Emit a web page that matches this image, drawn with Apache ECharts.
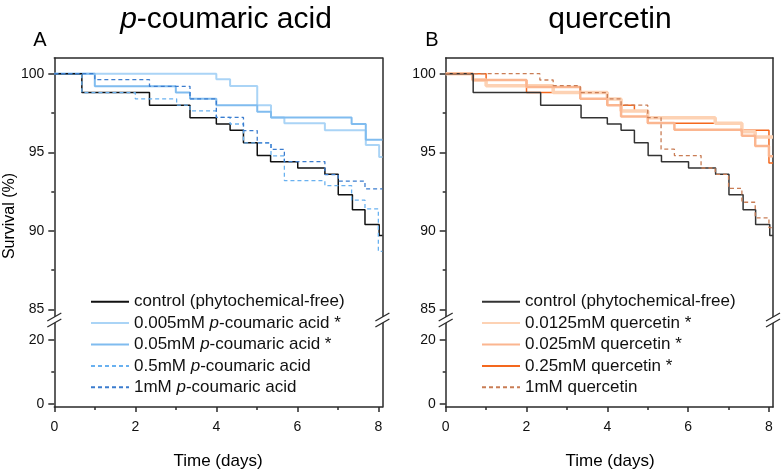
<!DOCTYPE html>
<html><head><meta charset="utf-8">
<script src="https://cdn.jsdelivr.net/npm/echarts@6/dist/echarts.min.js"></script>
<style>html,body{margin:0;padding:0;background:#fff}#c{width:781px;height:472px}</style>
</head><body><div id="c"></div>
<script>
// ---------- tick labels ----------
const xTicks = [0, 2, 4, 6, 8];
const xMinor = [1, 3, 5, 7];
const yTicksTop = [85, 90, 95, 100];
const yMinorTop = [87.5, 92.5, 97.5];
const yTicksBottom = [0, 20];
const yMinorBottom = [10];

// ---------- control (shared) ----------
const ctrlDays = [0, 0.68, 2.35, 3.35, 4.0, 4.34, 4.67, 5.01, 5.34, 6.01, 6.68, 7.01, 7.36, 7.67, 8.02, 8.1];
const ctrlSurv = [100, 98.8, 98.0, 97.2, 96.8, 96.4, 95.6, 94.8, 94.4, 94.0, 93.6, 92.3, 91.35, 90.4, 89.7, 89.7];

// ---------- panel A: p-coumaric acid ----------
const pca005Days = [0, 4.0, 4.34, 5.01, 5.35, 5.68, 6.68, 7.69, 8.02, 8.1];
const pca005Surv = [100, 99.64, 99.22, 98.0, 97.22, 96.84, 96.4, 95.47, 94.7, 94.7];
const pca05Days = [0, 1.0, 3.0, 3.35, 4.0, 5.01, 5.35, 7.34, 7.69, 8.1];
const pca05Surv = [100, 99.2, 98.8, 98.4, 98.0, 97.58, 97.22, 96.8, 95.8, 95.8];
const pca5Days = [0, 0.68, 2.0, 3.02, 3.35, 4.0, 4.34, 4.67, 5.35, 5.68, 6.68, 7.34, 7.67, 8.0, 8.1];
const pca5Surv = [100, 98.8, 98.4, 98.0, 97.63, 97.22, 96.8, 95.6, 94.77, 93.2, 92.88, 91.95, 91.4, 88.7, 88.7];
const pca1Days = [0, 1.0, 2.35, 3.35, 4.0, 4.67, 5.01, 5.35, 5.68, 6.68, 7.01, 7.67, 8.1];
const pca1Surv = [100, 99.62, 99.2, 98.4, 97.22, 96.38, 95.6, 95.19, 94.41, 93.58, 93.16, 92.67, 92.67];

// ---------- panel B: quercetin ----------
const q0125Days = [0, 0.67, 1.0, 2.66, 4.0, 4.34, 5.0, 6.67, 7.33, 7.66, 8.1];
const q0125Surv = [100, 99.6, 99.24, 98.8, 98.39, 97.63, 97.2, 96.84, 96.31, 95.98, 95.98];
const q025Days = [0, 0.67, 2.0, 3.33, 4.0, 4.34, 5.0, 5.66, 7.33, 7.66, 8.0, 8.1];
const q025Surv = [100, 99.6, 99.15, 98.4, 98.0, 97.27, 96.86, 96.44, 96.06, 95.4, 94.75, 94.75];
const q25Days = [0, 1.0, 2.0, 4.0, 4.67, 5.0, 7.33, 8.0, 8.1];
const q25Surv = [100, 99.6, 98.8, 98.0, 97.63, 96.84, 96.4, 94.32, 94.32];
const q1Days = [0, 2.33, 2.66, 3.33, 4.0, 4.34, 5.0, 5.33, 5.66, 6.32, 6.67, 7.0, 7.33, 7.66, 8.0, 8.1];
const q1Surv = [100, 99.6, 99.24, 98.8, 98.4, 98.0, 97.2, 95.2, 94.79, 94.0, 93.6, 92.7, 91.82, 90.83, 90.2, 90.2];

// ---------- names ----------
const namesA = ['control (phytochemical-free)', '0.005mM p-coumaric acid *', '0.05mM p-coumaric acid *', '0.5mM p-coumaric acid', '1mM p-coumaric acid'];
const namesB = ['control (phytochemical-free) ', '0.0125mM quercetin *', '0.025mM quercetin *', '0.25mM quercetin *', '1mM quercetin'];

const FONT = 'Liberation Sans, Arial, sans-serif';
const AX = '#2a2a2a';
const X_MAX = 8.1;
const TOP_MIN = 84.2, TOP_MAX = 101;
const BOT_MIN = -0.9, BOT_MAX = 25.6;

function pairs(d, s) { return d.map((t, i) => [t, s[i]]); }
function mk(name, days, surv, panel, color, width, dashed, z) {
  return {
    type: 'line', name, data: pairs(days, surv),
    xAxisIndex: 4 * panel, yAxisIndex: 6 * panel,
    step: 'end', symbol: 'none', showSymbol: false,
    lineStyle: { color, width, type: dashed ? [4, 3] : 'solid' },
    itemStyle: { color }, z, silent: true, animation: false,
    emphasis: { disabled: true }
  };
}

const grids = [
  { left: 54.3, top: 58, width: 328.1, height: 264 },
  { left: 54.3, top: 322, width: 328.1, height: 85 },
  { left: 445.7, top: 58, width: 327.3, height: 264 },
  { left: 445.7, top: 322, width: 327.3, height: 85 }
];

const lineS = { color: AX, width: 1.5 };
const lblS = { fontSize: 14, color: '#111', fontFamily: FONT };
const xAxes = [], yAxes = [];
for (let p = 0; p < 2; p++) {
  const gU = 2 * p, gL = 2 * p + 1;
  xAxes.push({ gridIndex: gU, type: 'value', min: 0, max: X_MAX, show: false });
  xAxes.push({ gridIndex: gU, type: 'value', position: 'top', min: 0, max: X_MAX,
    axisLine: { show: true, onZero: false, lineStyle: lineS }, axisTick: { show: false },
    axisLabel: { show: false }, splitLine: { show: false } });
  xAxes.push({ gridIndex: gL, type: 'value', position: 'bottom', min: 0, max: X_MAX,
    axisLine: { show: true, onZero: false, lineStyle: lineS },
    axisTick: { show: true, inside: false, length: 5, customValues: xTicks, lineStyle: lineS },
    axisLabel: Object.assign({ customValues: xTicks, margin: 13 }, lblS), splitLine: { show: false } });
  xAxes.push({ gridIndex: gL, type: 'value', position: 'bottom', min: 0, max: X_MAX,
    axisLine: { show: false, onZero: false },
    axisTick: { show: true, inside: false, length: 3, customValues: xMinor, lineStyle: lineS },
    axisLabel: { show: false }, splitLine: { show: false } });

  const ySet = (g, mn, mx, major, minor) => {
    yAxes.push({ gridIndex: g, type: 'value', position: 'left', min: mn, max: mx,
      axisLine: { show: true, onZero: false, lineStyle: lineS },
      axisTick: { show: true, inside: false, length: 6, customValues: major, lineStyle: lineS },
      axisLabel: Object.assign({ customValues: major, margin: 10 }, lblS), splitLine: { show: false } });
    yAxes.push({ gridIndex: g, type: 'value', position: 'left', min: mn, max: mx,
      axisLine: { show: false, onZero: false },
      axisTick: { show: true, inside: false, length: 3, customValues: minor, lineStyle: lineS },
      axisLabel: { show: false }, splitLine: { show: false } });
    yAxes.push({ gridIndex: g, type: 'value', position: 'right', min: mn, max: mx,
      axisLine: { show: true, onZero: false, lineStyle: lineS }, axisTick: { show: false },
      axisLabel: { show: false }, splitLine: { show: false } });
  };
  ySet(gU, TOP_MIN, TOP_MAX, yTicksTop, yMinorTop);
  ySet(gL, BOT_MIN, BOT_MAX, yTicksBottom, yMinorBottom);
}

const series = [
  mk(namesA[0], ctrlDays, ctrlSurv, 0, '#111111', 1.5, false, 6),
  mk(namesA[1], pca005Days, pca005Surv, 0, '#aad4f6', 2, false, 3),
  mk(namesA[2], pca05Days, pca05Surv, 0, '#80bcef', 2, false, 4),
  mk(namesA[3], pca5Days, pca5Surv, 0, '#69b1f0', 1.3, true, 7),
  mk(namesA[4], pca1Days, pca1Surv, 0, '#3b7cce', 1.3, true, 8),
  mk(namesB[0], ctrlDays, ctrlSurv, 1, '#333333', 1.5, false, 6),
  mk(namesB[1], q0125Days, q0125Surv, 1, '#fdd2b4', 3.5, false, 3),
  mk(namesB[2], q025Days, q025Surv, 1, '#fbb690', 2.5, false, 4),
  mk(namesB[3], q25Days, q25Surv, 1, '#f4681e', 1.5, false, 2),
  mk(namesB[4], q1Days, q1Surv, 1, '#c97d55', 1.3, true, 7)
];

const legendText = { fontSize: 17, lineHeight: 18, color: '#111', fontFamily: FONT,
  rich: { i: { fontStyle: 'italic', fontSize: 17, lineHeight: 18, color: '#111', fontFamily: FONT } } };
const fmt = n => n.trim().replace('p-', '{i|p}-');
const legends = [
  { data: namesA, left: 90, top: 292.7 },
  { data: namesB, left: 481, top: 292.7 }
].map(l => Object.assign({
  orient: 'vertical', itemWidth: 38, itemHeight: 14, itemGap: 3.4, padding: 0,
  selectedMode: false, textStyle: legendText, formatter: fmt,
  itemStyle: { opacity: 0 }
}, l));

function breakMark(cx, cy) {
  return [
    { type: 'polygon', z: 100, shape: { points: [[cx - 7, cy - 1], [cx + 7, cy - 9], [cx + 7, cy - 3], [cx - 7, cy + 5]] }, style: { fill: '#fff' } },
    { type: 'line', z: 101, shape: { x1: cx - 7, y1: cy - 1, x2: cx + 7, y2: cy - 9 }, style: { stroke: AX, lineWidth: 1.3 } },
    { type: 'line', z: 101, shape: { x1: cx - 7, y1: cy + 5, x2: cx + 7, y2: cy - 3 }, style: { stroke: AX, lineWidth: 1.3 } }
  ];
}
function txt(x, y, text, size, extra) {
  return { type: 'text', x, y, z: 100, style: Object.assign({
    text, fontSize: size, fontFamily: FONT, fill: '#000',
    align: 'center', verticalAlign: 'middle', textAlign: 'center', textVerticalAlign: 'middle'
  }, extra || {}) };
}
const graphics = [
  txt(226, 20, '{i|p}-coumaric acid', 30, { rich: { i: { fontStyle: 'italic', fontSize: 30, fontFamily: FONT } } }),
  txt(610, 20, 'quercetin', 30),
  txt(40, 40, 'A', 20),
  txt(432, 40, 'B', 20),
  txt(218, 461, 'Time (days)', 17),
  txt(610, 461, 'Time (days)', 17),
  Object.assign(txt(10, 216, 'Survival (%)', 16), { rotation: Math.PI / 2 })
].concat(breakMark(54.3, 322), breakMark(382.4, 322), breakMark(445.7, 322), breakMark(773, 322));

const chart = echarts.init(document.getElementById('c'), null, { renderer: 'canvas' });
chart.setOption({
  animation: false,
  backgroundColor: '#fff',
  grid: grids,
  xAxis: xAxes,
  yAxis: yAxes,
  legend: legends,
  series,
  graphic: graphics
});
</script></body></html>
